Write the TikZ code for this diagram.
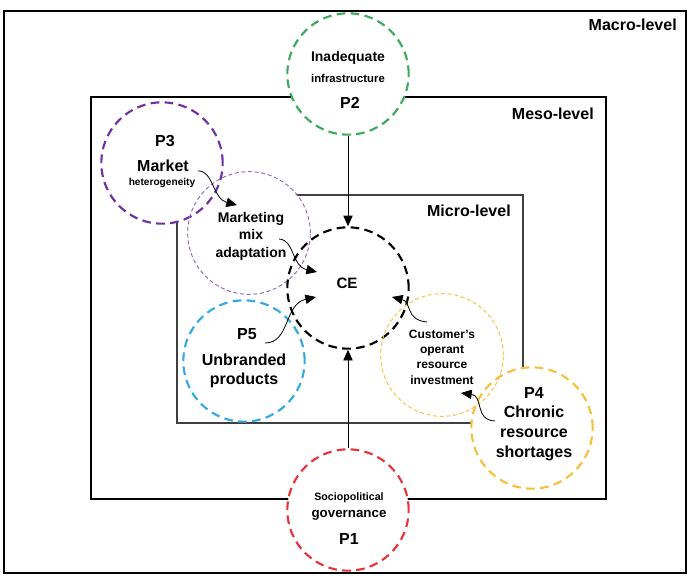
\documentclass[tikz,border=0pt]{standalone}
\usepackage{fontspec}
\setmainfont{Liberation Sans}
\usetikzlibrary{arrows.meta,backgrounds}
\definecolor{pgreen}{RGB}{58,170,92}
\definecolor{ppurple}{RGB}{112,48,160}
\definecolor{pblue}{RGB}{52,168,224}
\definecolor{pyellow}{RGB}{246,192,60}
\definecolor{pred}{RGB}{232,50,58}
\tikzset{
  lvlbox/.style={draw=black, line width=0.8pt},
  lvltext/.style={anchor=east, inner sep=0pt, font=\fontsize{12}{14}\selectfont\bfseries},
  bigcirc/.style={circle, minimum size=91pt, inner sep=0pt, line width=1.6pt, dash pattern=on 6.5pt off 4pt},
  thincirc/.style={circle, minimum size=92pt, inner sep=0pt, line width=0.7pt, dash pattern=on 3pt off 2pt},
  plbl/.style={inner sep=0pt, align=center, font=\fontsize{12}{14}\selectfont\bfseries},
  midlbl/.style={inner sep=0pt, align=center, font=\fontsize{10.5}{13.1}\selectfont\bfseries},
  smalllbl/.style={inner sep=0pt, align=center, font=\fontsize{8.5}{10}\selectfont\bfseries},
  arr/.style={-{Triangle[length=8pt,width=7pt]}, line width=0.6pt}
}

\begin{document}
\begin{tikzpicture}[x=0.75pt,y=-0.75pt]
    \useasboundingbox (0,0) rectangle (693,582);

    % propositions and constructs
    \node [bigcirc, draw=pgreen] (p2) at (348,74) {};
    \node [bigcirc, draw=ppurple] (p3) at (162,163) {};
    \node [thincirc, draw=ppurple!75] (mix) at (249,233) {};
    \node [bigcirc, draw=black] (ce) at (348,288) {};
    \node [bigcirc, draw=pblue] (p5) at (244,361) {};
    \node [thincirc, draw=pyellow] (cust) at (442,355) {};
    \node [bigcirc, draw=pyellow] (p4) at (532,428) {};
    \node [bigcirc, draw=pred] (p1) at (348,510) {};

    \begin{pgfonlayer}{background}
      \draw [lvlbox] (4,11) rectangle (686,573);
      \draw [lvlbox] (91,97) rectangle (606,499);
      \draw [lvlbox, black!75] (177,195) rectangle (523,423);
      \foreach \c in {p2,p3,mix,ce,p5,cust,p4,p1}
        \fill [white] (\c.center) circle (45.5pt);
    \end{pgfonlayer}

    \node [lvltext] (macro) at (677,25) {Macro-level};
    \node [lvltext] (meso) at (594,114) {Meso-level};
    \node [lvltext] (micro) at (511,211) {Micro-level};

    \node [midlbl] (inad) at (348,58) {Inadequate};
    \node [smalllbl] (infra) at (348,78) {infrastructure};
    \node [plbl] (p2lbl) at (350,103) {P2};

    \node [plbl] (p3lbl) at (165,141) {P3};
    \node [plbl] (market) at (163,166) {Market};
    \node [smalllbl, font=\fontsize{7.6}{9}\selectfont\bfseries] (hetero) at (162,183) {heterogeneity};

    \node [midlbl] (mixlbl) at (251,236) {Marketing\\mix\\adaptation};
    \node [plbl, font=\fontsize{11.3}{13}\selectfont\bfseries] (celbl) at (347,283) {CE};

    \node [plbl] (p5lbl) at (247,334) {P5};
    \node [plbl] (unbr) at (244,371) {Unbranded\\products};

    \node [smalllbl, font=\fontsize{9}{11.5}\selectfont\bfseries] (custlbl) at (442,357) {Customer's\\operant\\resource\\investment};

    \node [plbl] (p4lbl) at (534,393) {P4};
    \node [plbl, font=\fontsize{12}{15}\selectfont\bfseries] (chron) at (534,433) {Chronic\\resource\\shortages};

    \node [smalllbl, font=\fontsize{8}{10}\selectfont\bfseries] (socio) at (349,498) {Sociopolitical};
    \node [midlbl, font=\fontsize{10}{12}\selectfont\bfseries] (gov) at (349,515) {governance};
    \node [plbl] (p1lbl) at (349,539) {P1};

    % links
    \coordinate (mktout) at (198,171);
    \coordinate (mixin) at (237,205);
    \coordinate (mixout) at (279,239);
    \coordinate (cein1) at (317,272);
    \coordinate (p5out) at (265,343);
    \coordinate (cein2) at (316,297);
    \coordinate (custout) at (427,322);
    \coordinate (cein3) at (392,297);
    \coordinate (chronout) at (495,421);
    \coordinate (custin) at (461,393);

    \draw [arr] (p2) -- (ce);
    \draw [arr] (p1) -- (ce);
    \draw [arr] (mktout) .. controls (213,170) and (213,199) .. (mixin);
    \draw [arr] (mixout) .. controls (295,240) and (291,266) .. (cein1);
    \draw [arr] (p5out) .. controls (290,343) and (284,304) .. (cein2);
    \draw [arr] (custout) .. controls (405,320) and (412,302) .. (cein3);
    \draw [arr] (chronout) .. controls (474,420) and (484,396) .. (custin);
\end{tikzpicture}
\end{document}
